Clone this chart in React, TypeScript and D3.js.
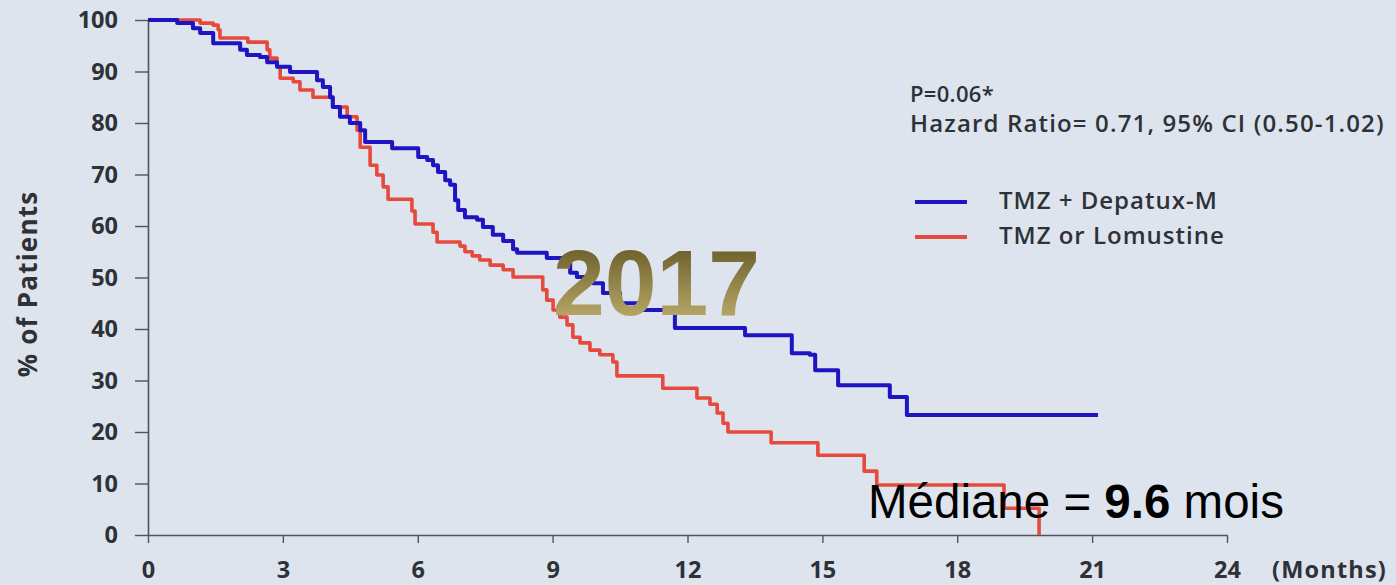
import React, { useRef, useEffect } from 'react';
import * as d3 from 'd3';

const monthTicks = [0, 3, 6, 9, 12, 15, 18, 21, 24];
const percentTicks = [0, 10, 20, 30, 40, 50, 60, 70, 80, 90, 100];

// TMZ + Depatux-M (blue)
const depatuxMonths = [
  0, 0.65, 1.0, 1.16, 1.45, 2.05, 2.2, 2.49, 2.65, 2.87, 3.16, 3.76, 3.89, 4.05, 4.11,
  4.27, 4.49, 4.72, 4.83, 5.43, 6.01, 6.21, 6.34, 6.45, 6.61, 6.72, 6.83, 6.9, 7.05, 7.32,
  7.45, 7.67, 7.9, 8.12, 8.21, 8.87, 9.23, 9.39, 9.54, 9.9, 10.12, 10.5, 10.88, 11.72, 13.28,
  14.32, 14.72, 14.84, 15.35, 16.5, 16.88, 21.13,
];
const depatuxSurvival = [
  100, 99.4, 98.4, 97.5, 95.5, 94.2, 93.2, 92.8, 91.8, 90.9, 89.9, 88.3, 87.0, 85.0, 83.1,
  81.2, 80.0, 78.6, 76.3, 75.1, 73.4, 72.8, 71.8, 70.5, 68.9, 68.0, 65.0, 63.1, 61.7, 61.2,
  59.8, 58.3, 57.1, 55.5, 54.8, 53.8, 52.8, 50.9, 50.1, 48.9, 47.0, 45.0, 43.7, 40.2, 38.8,
  35.3, 35.0, 32.0, 29.1, 26.8, 23.3, 23.3,
];

// TMZ or Lomustine (red)
const controlMonths = [
  0, 1.16, 1.45, 1.56, 1.6, 2.22, 2.65, 2.71, 2.87, 2.94, 3.23, 3.38, 3.67, 4.11, 4.43,
  4.65, 4.72, 4.94, 5.09, 5.23, 5.34, 5.87, 5.94, 6.34, 6.43, 6.94, 7.05, 7.21, 7.38, 7.61,
  7.9, 8.12, 8.78, 8.87, 9.01, 9.16, 9.32, 9.45, 9.61, 9.83, 10.05, 10.34, 10.43, 11.45, 12.21,
  12.5, 12.66, 12.79, 12.9, 13.86, 14.9, 15.93, 16.21, 19.04, 19.82,
];
const controlSurvival = [
  100, 99.4, 99.0, 98.1, 96.5, 95.7, 94.2, 92.6, 90.9, 88.7, 88.0, 86.4, 85.0, 83.1, 81.2,
  78.6, 75.3, 71.8, 69.9, 67.6, 65.2, 62.9, 60.4, 58.8, 56.9, 56.1, 55.0, 54.2, 53.4, 52.4,
  51.5, 50.1, 47.6, 45.6, 43.7, 42.3, 40.8, 38.4, 37.3, 35.9, 35.0, 33.6, 30.9, 28.5, 26.6,
  25.4, 23.7, 21.7, 20.0, 17.9, 15.5, 12.4, 9.7, 5.2, 0,
];

const seriesNames = ['TMZ + Depatux-M', 'TMZ or Lomustine'];
const seriesColors = ['#1e14c2', '#e64a3c'];
const statLines = ['P=0.06*', 'Hazard Ratio= 0.71, 95% CI (0.50-1.02)'];

function App() {
  const width = 1396;
  const height = 585;
  const svgRef = useRef<SVGSVGElement | null>(null);

  useEffect(() => {
    const svg = d3.select(svgRef.current);
    svg.selectAll('*').remove();

    const font = '"Open Sans", sans-serif';
    const ink = '#2e3136';
    const axisColor = '#50555d';

    svg.append('rect').attr('width', width).attr('height', height).attr('fill', '#dde4ee');

    const xScale = d3.scaleLinear().domain([0, 24]).range([148, 1227]);
    const yScale = d3.scaleLinear().domain([0, 100]).range([535, 20]);

    // axes
    const yAxis = d3.axisLeft(yScale).tickValues(percentTicks).tickSize(13).tickSizeOuter(0).tickPadding(17);
    const gy = svg.append('g').attr('transform', `translate(${xScale(0)},0)`).call(yAxis);

    const xAxis = d3.axisBottom(xScale).tickValues(monthTicks).tickSize(8).tickSizeOuter(0).tickPadding(18);
    const gx = svg.append('g').attr('transform', `translate(0,${yScale(0)})`).call(xAxis);

    [gx, gy].forEach((g) => {
      g.select('.domain').attr('stroke', axisColor).attr('stroke-width', 1.6);
      g.selectAll('.tick line').attr('stroke', axisColor).attr('stroke-width', 1.4);
      g.selectAll('.tick text')
        .attr('fill', ink)
        .attr('font-family', font)
        .attr('font-weight', 700)
        .attr('font-size', 23.5);
    });

    svg
      .append('text')
      .attr('x', 1272)
      .attr('y', 578)
      .attr('fill', ink)
      .attr('font-family', font)
      .attr('font-weight', 700)
      .attr('font-size', 23.5)
      .attr('letter-spacing', 1.2)
      .text('(Months)');

    svg
      .append('text')
      .attr('transform', 'translate(37,284) rotate(-90)')
      .attr('text-anchor', 'middle')
      .attr('fill', ink)
      .attr('font-family', font)
      .attr('font-weight', 700)
      .attr('font-size', 26)
      .attr('letter-spacing', 1.2)
      .text('% of Patients');

    // survival curves
    const stepLine = d3
      .line<[number, number]>()
      .x((d) => xScale(d[0]))
      .y((d) => yScale(d[1]))
      .curve(d3.curveStepAfter);

    const series: [number, number][][] = [
      depatuxMonths.map((m, i) => [m, depatuxSurvival[i]]),
      controlMonths.map((m, i) => [m, controlSurvival[i]]),
    ];

    [1, 0].forEach((i) => {
      svg
        .append('path')
        .datum(series[i])
        .attr('d', stepLine)
        .attr('fill', 'none')
        .attr('stroke', seriesColors[i])
        .attr('stroke-width', i === 0 ? 4 : 3.6)
        .attr('stroke-linejoin', 'round');
    });

    // stats + legend
    statLines.forEach((t, i) => {
      svg
        .append('text')
        .attr('x', 910)
        .attr('y', 102 + i * 30)
        .attr('fill', ink)
        .attr('font-family', font)
        .attr('font-weight', 600)
        .attr('font-size', i === 0 ? 22 : 24)
        .attr('letter-spacing', i === 0 ? 0.3 : 1.15)
        .text(t);
    });

    seriesNames.forEach((name, i) => {
      const y = 202 + i * 35;
      svg
        .append('line')
        .attr('x1', 915)
        .attr('x2', 967)
        .attr('y1', y)
        .attr('y2', y)
        .attr('stroke', seriesColors[i])
        .attr('stroke-width', 4);
      svg
        .append('text')
        .attr('x', 999)
        .attr('y', y + 7)
        .attr('fill', ink)
        .attr('font-family', font)
        .attr('font-weight', 600)
        .attr('font-size', 24)
        .attr('letter-spacing', 1)
        .text(name);
    });

    // overlays
    const grad = svg
      .append('defs')
      .append('linearGradient')
      .attr('id', 'goldGrad')
      .attr('gradientUnits', 'userSpaceOnUse')
      .attr('x1', 0)
      .attr('y1', 248)
      .attr('x2', 0)
      .attr('y2', 315);
    grad.append('stop').attr('offset', '0%').attr('stop-color', '#6e602c');
    grad.append('stop').attr('offset', '100%').attr('stop-color', '#b4a464');

    svg
      .append('text')
      .attr('x', 553)
      .attr('y', 315)
      .attr('fill', 'url(#goldGrad)')
      .attr('font-family', '"Liberation Sans", Arial, sans-serif')
      .attr('font-weight', 700)
      .attr('font-size', 93)
      .text('2017');

    const med = svg
      .append('text')
      .attr('x', 868)
      .attr('y', 518)
      .attr('fill', '#000')
      .attr('font-family', '"Liberation Sans", Arial, sans-serif')
      .attr('font-size', 47.5);
    med.append('tspan').text('Médiane = ');
    med.append('tspan').attr('font-weight', 700).text('9.6');
    med.append('tspan').text(' mois');
  }, []);

  return (
    <svg
      ref={svgRef}
      width={width}
      height={height}
      style={{ position: 'fixed', left: 0, top: 0, display: 'block' }}
    />
  );
}

export default App;
